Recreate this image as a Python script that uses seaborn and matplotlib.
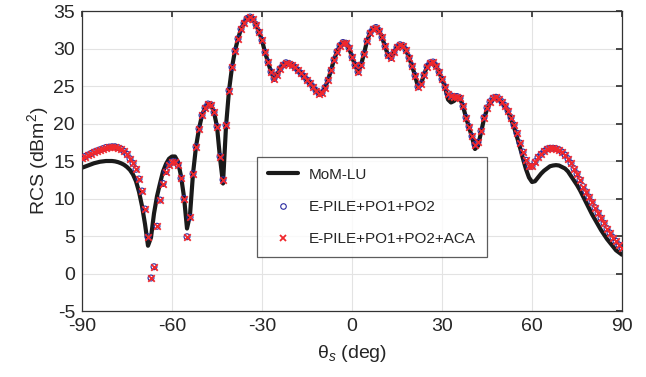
import matplotlib
matplotlib.use("Agg")
import matplotlib.pyplot as plt
import numpy as np
import pandas as pd
import seaborn as sns
from matplotlib.lines import Line2D

# scattering angle, 1 degree steps
theta = list(range(-90, 91))

# MoM-LU reference (dBm^2)
rcs_mom = [
    14.1, 14.25, 14.4, 14.55, 14.7, 14.8, 14.9, 14.95, 15.0, 15.0,
    15.0, 14.95, 14.85, 14.7, 14.5, 14.2, 13.8, 13.2, 12.3, 10.9,
    9.0, 6.6, 3.7, 4.8, 8.0, 10.3, 12.0, 13.6, 14.6, 15.3,
    15.6, 15.6, 14.9, 13.0, 10.2, 6.0, 7.8, 13.3, 16.9, 19.3,
    21.1, 22.1, 22.6, 22.5, 21.5, 19.6, 15.4, 12.0, 19.6, 24.4,
    27.5, 29.7, 31.3, 32.6, 33.4, 34.0, 34.2, 33.9, 33.2, 32.2,
    31.1, 29.5, 28.2, 26.9, 26.0, 26.5, 27.3, 27.8, 28.1, 28.0,
    27.8, 27.5, 27.1, 26.7, 26.3, 25.8, 25.4, 24.9, 24.4, 24.0,
    24.1, 24.8, 25.8, 27.1, 28.5, 29.6, 30.4, 30.8, 30.7, 30.1,
    28.9, 27.8, 26.9, 27.8, 29.3, 31.0, 32.1, 32.6, 32.8, 32.4,
    31.5, 30.3, 29.1, 28.8, 29.5, 30.2, 30.5, 30.4, 29.8, 28.8,
    27.7, 26.4, 24.9, 25.3, 26.5, 27.6, 28.1, 28.2, 27.7, 26.9,
    25.9, 24.9, 23.2, 22.8, 23.0, 23.4, 23.4, 22.3, 20.8, 19.5,
    18.2, 16.6, 17.0, 18.8, 20.6, 21.9, 22.7, 23.2, 23.4, 23.2,
    22.8, 22.3, 21.6, 20.6, 19.5, 18.2, 16.8, 15.3, 13.9, 12.8,
    12.2, 12.3, 12.8, 13.3, 13.7, 14.0, 14.3, 14.4, 14.45, 14.4,
    14.2, 14.0, 13.6, 13.0, 12.4, 11.8, 11.1, 10.3, 9.5, 8.7,
    7.9, 7.2, 6.5, 5.8, 5.2, 4.6, 4.1, 3.6, 3.1, 2.8,
    2.5,
]

# E-PILE+PO1+PO2 (ACA version lies on top of it)
rcs_pile = [
    15.4, 15.6, 15.8, 16.0, 16.2, 16.35, 16.5, 16.65, 16.8, 16.85,
    16.9, 16.9, 16.8, 16.6, 16.3, 15.9, 15.3, 14.7, 13.9, 12.6,
    11.0, 8.6, 4.9, -0.6, 0.9, 6.3, 9.8, 12.0, 13.6, 14.5,
    14.9, 14.9, 14.5, 12.7, 10.0, 4.9, 7.5, 13.3, 16.9, 19.3,
    21.1, 22.1, 22.6, 22.5, 21.5, 19.6, 15.6, 12.5, 19.8, 24.4,
    27.5, 29.7, 31.3, 32.6, 33.4, 34.0, 34.2, 33.9, 33.2, 32.2,
    31.1, 29.5, 28.2, 26.9, 26.0, 26.5, 27.3, 27.8, 28.1, 28.0,
    27.8, 27.5, 27.1, 26.7, 26.3, 25.8, 25.4, 24.9, 24.4, 24.0,
    24.1, 24.8, 25.8, 27.1, 28.5, 29.6, 30.4, 30.8, 30.7, 30.1,
    28.9, 27.8, 26.9, 27.8, 29.3, 31.0, 32.1, 32.6, 32.8, 32.4,
    31.5, 30.3, 29.1, 28.8, 29.5, 30.2, 30.5, 30.4, 29.8, 28.8,
    27.7, 26.4, 24.9, 25.3, 26.5, 27.6, 28.1, 28.2, 27.7, 26.9,
    25.9, 24.9, 24.0, 23.7, 23.6, 23.6, 23.4, 22.3, 20.8, 19.6,
    18.3, 17.2, 17.5, 19.0, 20.8, 22.1, 22.9, 23.4, 23.5, 23.3,
    22.9, 22.4, 21.7, 20.8, 19.8, 18.7, 17.4, 16.2, 15.1, 14.3,
    14.3, 14.9, 15.5, 15.9, 16.3, 16.6, 16.7, 16.7, 16.65, 16.5,
    16.2, 15.8, 15.3, 14.7, 14.0, 13.3, 12.5, 11.6, 10.9, 10.2,
    9.5, 8.8, 8.1, 7.4, 6.7, 6.0, 5.4, 4.8, 4.3, 3.8,
    3.4,
]
rcs_aca = list(rcs_pile)

xticks = [-90, -60, -30, 0, 30, 60, 90]
yticks = [-5, 0, 5, 10, 15, 20, 25, 30, 35]

df = pd.DataFrame({"theta": theta, "mom": rcs_mom, "pile": rcs_pile, "aca": rcs_aca})

sns.set_theme(style="whitegrid")
plt.rcParams["font.family"] = ["Liberation Sans", "DejaVu Sans"]
plt.rcParams["mathtext.fontset"] = "custom"
plt.rcParams["mathtext.rm"] = "Liberation Sans"
plt.rcParams["mathtext.it"] = "Liberation Sans:italic"
plt.rcParams["axes.unicode_minus"] = False

fig = plt.figure(figsize=(6.46, 3.77), dpi=100)
ax = fig.add_axes([82 / 646, 1 - 311 / 377, 540 / 646, 300 / 377])

sns.lineplot(data=df, x="theta", y="mom", ax=ax, color="#1a1a1a", linewidth=3.0, zorder=2)
sns.scatterplot(data=df, x="theta", y="pile", ax=ax, marker="o", s=18,
                facecolors="none", edgecolor="#2a2aa0", linewidth=0.8, zorder=3)
sns.scatterplot(data=df, x="theta", y="aca", ax=ax, marker="x", s=22,
                color="#f0282d", linewidth=1.3, zorder=4)

ax.set_xlim(-90, 90)
ax.set_ylim(-5, 35)
ax.set_xticks(xticks)
ax.set_yticks(yticks)
ax.tick_params(axis="both", labelsize=14, direction="in", length=4, color="#333333",
               top=True, right=True, pad=5)
ax.grid(True, color="#e3e3e3", linewidth=0.8)
for sp in ax.spines.values():
    sp.set_color("#333333")
    sp.set_linewidth(0.9)

ax.set_xlabel(r"θ$_s$ (deg)", fontsize=14, labelpad=6)
ax.set_ylabel(r"RCS (dBm$^2$)", fontsize=14, labelpad=2)

handles = [
    Line2D([], [], color="#1a1a1a", linewidth=3.0),
    Line2D([], [], marker="o", linestyle="", markersize=4, markerfacecolor="none",
           markeredgecolor="#2a2aa0", markeredgewidth=0.8),
    Line2D([], [], marker="x", linestyle="", markersize=5, color="#f0282d", markeredgewidth=1.3),
]
labels = ["MoM-LU", "E-PILE+PO1+PO2", "E-PILE+PO1+PO2+ACA"]
leg = ax.legend(handles, labels, loc="lower left", bbox_to_anchor=(0.324, 0.18),
                fontsize=11, frameon=True, fancybox=False, handlelength=2.0,
                borderpad=0.7, labelspacing=1.2, handletextpad=0.7, borderaxespad=0)
leg.get_frame().set_edgecolor("#333333")
leg.get_frame().set_linewidth(0.9)

fig.savefig("out.png", dpi=100)
